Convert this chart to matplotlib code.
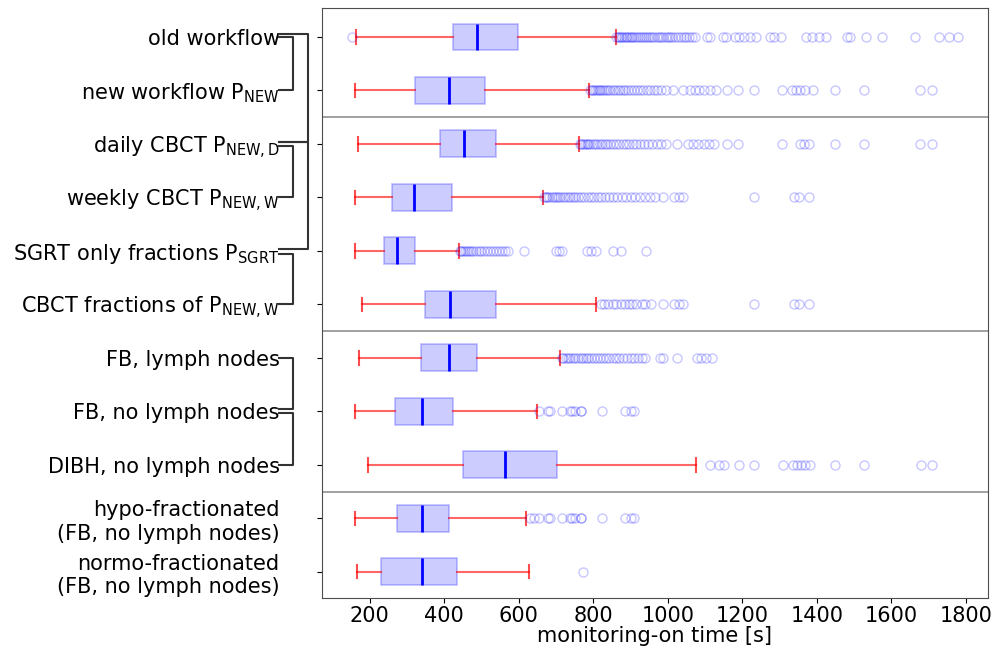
import matplotlib
matplotlib.use('Agg')
import matplotlib.pyplot as plt

labels = [
    'old workflow',
    r'new workflow $\mathregular{P_{NEW}}$',
    r'daily CBCT $\mathregular{P_{NEW,D}}$',
    r'weekly CBCT $\mathregular{P_{NEW,W}}$',
    r'SGRT only fractions $\mathregular{P_{SGRT}}$',
    r'CBCT fractions of $\mathregular{P_{NEW,W}}$',
    'FB, lymph nodes',
    'FB, no lymph nodes',
    'DIBH, no lymph nodes',
    'hypo-fractionated\n(FB, no lymph nodes)',
    'normo-fractionated\n(FB, no lymph nodes)',
]

whislo = [162, 161, 168, 160, 160, 180, 170, 160, 195, 160, 167]
q1 = [423, 321, 389, 259, 238, 348, 339, 268, 451, 273, 230]
med = [487, 412, 454, 319, 272, 416, 413, 341, 563, 341, 340]
q3 = [598, 510, 540, 422, 321, 538, 488, 424, 703, 413, 435]
whishi = [860, 788, 762, 664, 439, 807, 712, 648, 1075, 619, 628]

fliers = [
    # old workflow
    [153, 862, 866, 870, 874, 878, 882, 887, 891, 895, 900, 905, 910, 915,
     920, 925, 930, 936, 941, 947, 953, 958, 964, 970, 976, 982, 988, 994,
     1000, 1006, 1012, 1020, 1028, 1035, 1043, 1050, 1058, 1066, 1074,
     1105, 1112, 1148, 1155, 1180, 1192, 1205, 1220, 1236, 1275, 1285,
     1305, 1372, 1388, 1405, 1425, 1480, 1490, 1532, 1575, 1662, 1727,
     1755, 1780],
    # new workflow
    [792, 796, 800, 805, 809, 814, 818, 823, 828, 834, 840, 846, 852, 858,
     865, 872, 879, 886, 893, 900, 908, 916, 925, 934, 943, 952, 962, 972,
     982, 994, 1013, 1040, 1060, 1072, 1085, 1098, 1112, 1130, 1158, 1188,
     1230, 1306, 1334, 1345, 1356, 1368, 1390, 1448, 1526, 1677, 1708],
    # daily CBCT
    [764, 768, 772, 777, 782, 787, 792, 798, 804, 810, 817, 824, 831, 838,
     846, 854, 862, 870, 879, 888, 897, 906, 915, 925, 936, 947, 958, 970,
     982, 995, 1024, 1055, 1068, 1082, 1096, 1110, 1125, 1158, 1188, 1306,
     1356, 1366, 1378, 1448, 1526, 1677, 1708],
    # weekly CBCT
    [667, 672, 677, 682, 688, 694, 700, 706, 712, 718, 724, 731, 738, 745,
     752, 760, 768, 776, 785, 794, 803, 812, 822, 832, 842, 853, 864, 876,
     888, 900, 912, 925, 938, 952, 966, 988, 1016, 1030, 1042, 1230, 1338,
     1352, 1380],
    # SGRT only
    [442, 446, 450, 455, 460, 466, 472, 478, 485, 492, 500, 508, 516, 524,
     532, 540, 548, 556, 564, 570, 615, 700, 708, 715, 782, 795, 808, 852,
     875, 941],
    # CBCT fractions of P_NEW,W
    [822, 830, 840, 852, 862, 875, 885, 895, 905, 915, 930, 940, 955, 988,
     1016, 1030, 1042, 1230, 1338, 1352, 1380],
    # FB, lymph nodes
    [715, 720, 726, 732, 738, 745, 752, 759, 766, 773, 780, 787, 794, 801,
     809, 817, 825, 834, 843, 852, 861, 870, 880, 890, 900, 910, 920, 930,
     940, 978, 986, 1024, 1078, 1090, 1102, 1118],
    # FB, no lymph nodes
    [655, 678, 685, 716, 737, 744, 752, 766, 768, 824, 884, 902, 910],
    # DIBH, no lymph nodes
    [1113, 1138, 1152, 1190, 1232, 1308, 1337, 1348, 1358, 1368, 1382,
     1448, 1526, 1680, 1710],
    # hypo
    [630, 640, 655, 678, 685, 716, 737, 744, 752, 766, 768, 824, 884, 902,
     910],
    # normo
    [772],
]

# (first row, second row, x in axes fraction, offset first, offset second)
brackets = [
    (1, 2, -0.0435, 0.0, 0.0),
    (1, 3, -0.021, -0.05, -0.03),
    (3, 4, -0.0435, 0.04, 0.0),
    (3, 5, -0.021, -0.03, -0.04),
    (5, 6, -0.0435, 0.05, 0.0),
    (7, 8, -0.0435, 0.0, -0.04),
    (8, 9, -0.0435, 0.04, 0.0),
]
separators = [2.5, 6.5, 9.5]

fig = plt.figure(figsize=(10.05, 6.55), dpi=100)
ax = fig.add_axes([0.3204, 0.087, 0.6626, 0.9008])

stats = []
for i in range(len(labels)):
    stats.append({'med': med[i], 'q1': q1[i], 'q3': q3[i],
                  'whislo': whislo[i], 'whishi': whishi[i],
                  'fliers': fliers[i], 'label': labels[i]})
positions = list(range(1, len(labels) + 1))

ax.bxp(stats, positions=positions, vert=False, widths=0.5, patch_artist=True,
       boxprops=dict(facecolor=(0, 0, 1, 0.2), edgecolor=(0, 0, 1, 0.25),
                     linewidth=1.2),
       medianprops=dict(color='blue', linewidth=2),
       whiskerprops=dict(color=(1, 0, 0, 0.6), linewidth=1.5),
       capprops=dict(color=(1, 0, 0, 0.7), linewidth=1.5),
       flierprops=dict(marker='o', markersize=6.5, markerfacecolor='none',
                       markeredgecolor=(0, 0, 1, 0.22), markeredgewidth=1))

for y in separators:
    ax.axhline(y, color='0.6', linewidth=1.3)

tr = ax.get_yaxis_transform()
xl = -0.0646
for a, b, x, da, db in brackets:
    ax.plot([xl, x, x, xl], [a + da, a + da, b + db, b + db], transform=tr,
            clip_on=False, color='0.2', linewidth=1.5)

ax.set_ylim(11.49, 0.46)
ax.set_xlim(72, 1859)
ax.set_xticks(range(200, 1801, 200))
ax.tick_params(axis='both', labelsize=15)
ax.tick_params(axis='y', pad=27)
ax.tick_params(axis='x', pad=2)
ax.set_xlabel('monitoring-on time [s]', fontsize=15, labelpad=0)
for s in ax.spines.values():
    s.set_color('0.3')

plt.savefig('out.png', dpi=100)
